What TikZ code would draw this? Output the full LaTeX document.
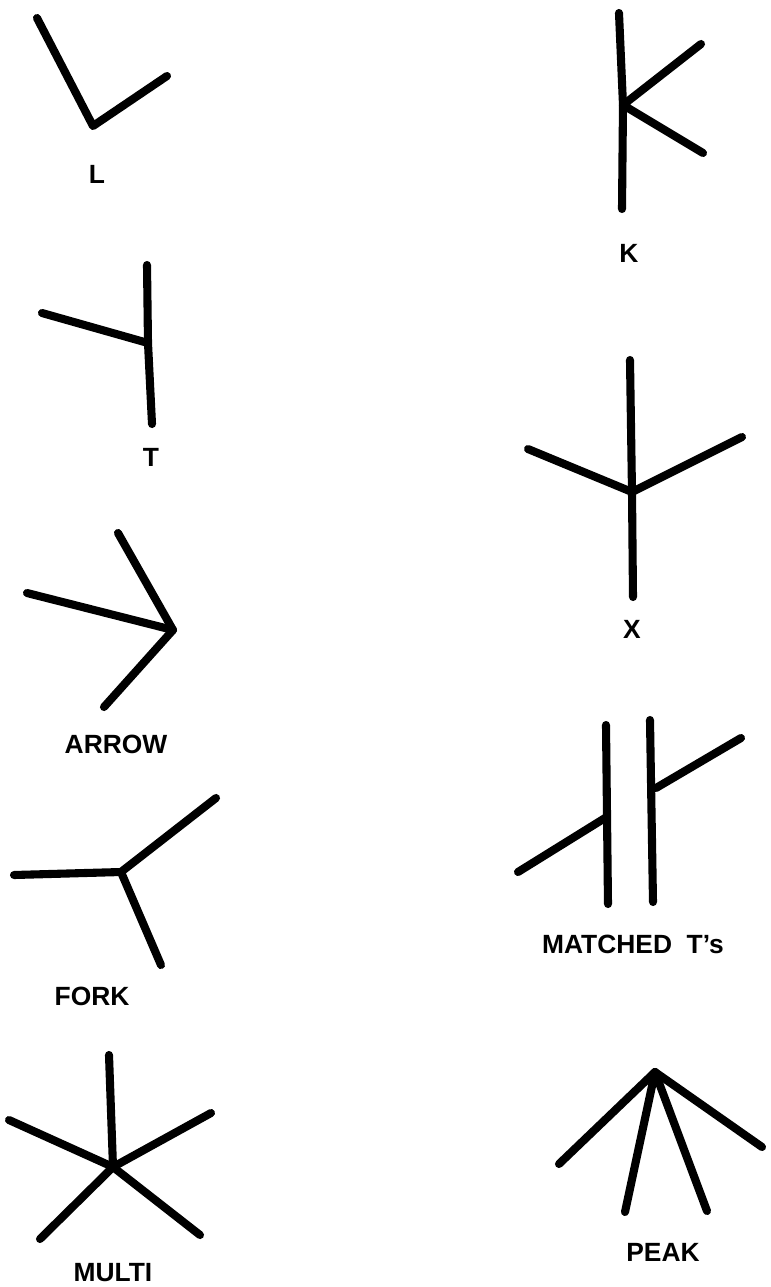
\documentclass[tikz,border=0pt]{standalone}
\usepackage{fontspec}
\setmainfont{Liberation Sans}
\usepackage{tikz}
\usetikzlibrary{positioning}
\tikzset{%
  trazo/.style ={draw=black, line width=2.3pt, line cap=round, line join=round},
  etiq/.style  ={font=\fontsize{7.5}{8}\selectfont\bfseries, inner sep=0pt}
}
\begin{document}
\begin{tikzpicture}[x=0.01cm, y=-0.01cm]
  \useasboundingbox (0,0) rectangle (771,1287);
  % L
  \coordinate (lA) at (37,18);   \coordinate (lV) at (93,126);  \coordinate (lB) at (167,76);
  \draw[trazo] (lA)--(lV)--(lB);
  \node[etiq] (lbL) at (97,174) {L};
  % T
  \coordinate (tTop) at (147,265); \coordinate (tJ) at (148,343);
  \coordinate (tBot) at (152,424); \coordinate (tL) at (42,313);
  \draw[trazo] (tTop)--(tJ)--(tBot); \draw[trazo] (tL)--(tJ);
  \node[etiq] (lbT) at (151,457) {T};
  % ARROW
  \coordinate (aTop) at (118,533); \coordinate (aV) at (173,630);
  \coordinate (aL) at (27,593);    \coordinate (aBot) at (104,707);
  \draw[trazo] (aTop)--(aV)--(aBot); \draw[trazo] (aL)--(aV);
  \node[etiq] (lbA) at (116,744) {ARROW};
  % FORK
  \coordinate (fL) at (14,875); \coordinate (fJ) at (121,872);
  \coordinate (fR) at (216,798); \coordinate (fB) at (161,965);
  \draw[trazo] (fL)--(fJ)--(fR); \draw[trazo] (fJ)--(fB);
  \node[etiq] (lbF) at (92,996) {FORK};
  % MULTI
  \coordinate (mC) at (113,1167);
  \foreach \p in {(109,1055),(9,1120),(211,1113),(40,1239),(200,1235)}{\draw[trazo] (mC)--\p;}
  \node[etiq] (lbM) at (113,1273) {MULTI};
  % K
  \coordinate (kTop) at (619,13); \coordinate (kJ) at (623,105);
  \coordinate (kBot) at (622,209); \coordinate (kU) at (701,44); \coordinate (kD) at (703,153);
  \draw[trazo] (kTop)--(kJ)--(kBot); \draw[trazo] (kU)--(kJ)--(kD);
  \node[etiq] (lbK) at (629,253) {K};
  % X
  \coordinate (xTop) at (630,360); \coordinate (xJ) at (632,492);
  \coordinate (xBot) at (633,597); \coordinate (xL) at (528,449); \coordinate (xR) at (742,437);
  \draw[trazo] (xTop)--(xJ)--(xBot); \draw[trazo] (xL)--(xJ)--(xR);
  \node[etiq] (lbX) at (632,629) {X};
  % MATCHED T's
  \coordinate (m1Top) at (606,725); \coordinate (m1J) at (605,818); \coordinate (m1Bot) at (608,904);
  \coordinate (m1L) at (518,872);
  \coordinate (m2Top) at (650,720); \coordinate (m2J) at (656,788); \coordinate (m2Bot) at (653,902);
  \coordinate (m2R) at (741,738);
  \draw[trazo] (m1Top)--(m1Bot); \draw[trazo] (m1L)--(m1J);
  \draw[trazo] (m2Top)--(m2Bot); \draw[trazo] (m2J)--(m2R);
  \node[etiq] (lbMT) at (633,944) {MATCHED\ \ T's};
  % PEAK
  \coordinate (pA) at (655,1072);
  \foreach \p in {(559,1164),(625,1212),(707,1211),(762,1147)}{\draw[trazo] (pA)--\p;}
  \node[etiq] (lbP) at (663,1252) {PEAK};
\end{tikzpicture}
\end{document}
